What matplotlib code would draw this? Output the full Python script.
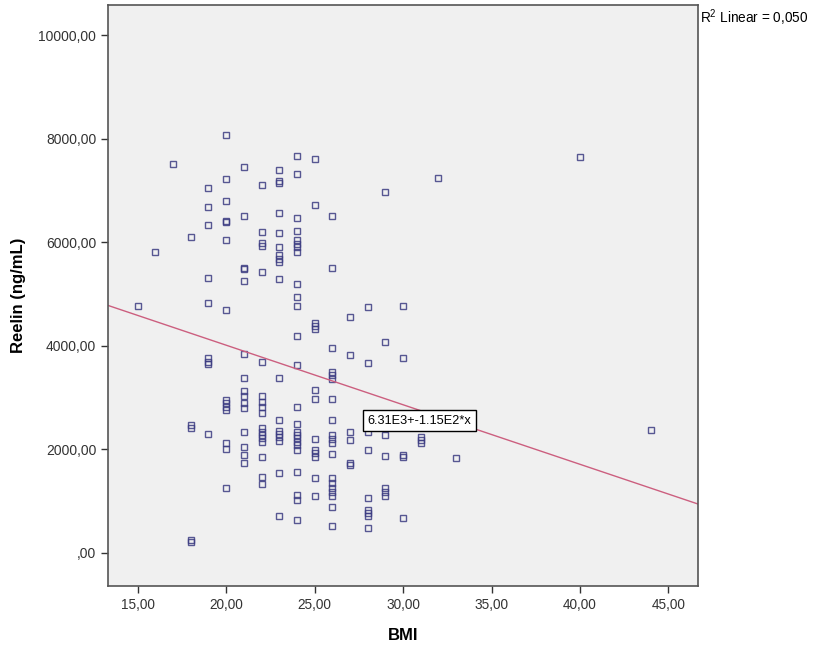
"""Scatter of Reelin vs BMI with linear fit, SPSS style."""

import matplotlib
import matplotlib.pyplot as plt
import numpy as np
from matplotlib.ticker import FuncFormatter

matplotlib.use("Agg")

# BMI values, grouped per column
bmi = (
    [15] * 1 + [16] * 1 + [17] * 1 + [18] * 5 + [19] * 9 + [20] * 14
    + [21] * 15 + [22] * 18 + [23] * 18 + [24] * 25 + [25] * 13 + [26] * 19
    + [27] * 6 + [28] * 9 + [29] * 7 + [30] * 5 + [31] * 3 + [32] * 1
    + [33] * 1 + [40] * 1 + [44] * 1
)

reelin = [
    4760,
    5810,
    7500,
    6100, 2470, 2410, 250, 210,
    7050, 6680, 6330, 5300, 4820, 3760, 3690, 3640, 2290,
    8060, 7220, 6800, 6410, 6380, 6050, 4690, 2950, 2890, 2820, 2760, 2120, 2010, 1260,
    7460, 6500, 5510, 5480, 5240, 3840, 3380, 3130, 3020, 2890, 2790, 2340, 2040, 1890, 1730,
    7110, 6200, 5980, 5930, 5430, 3690, 3020, 2920, 2820, 2700, 2410, 2340, 2280, 2210, 2150,
    1850, 1460, 1330,
    7390, 7180, 7150, 6570, 6180, 5910, 5750, 5680, 5620, 5280, 3370, 2570, 2360, 2300, 2230,
    2160, 1540, 710,
    7660, 7320, 6470, 6210, 6040, 5970, 5910, 5800, 5190, 4950, 4760, 4180, 3620, 2810, 2490,
    2340, 2280, 2210, 2150, 2090, 1990, 1560, 1120, 1020, 640,
    7600, 6720, 4430, 4380, 4330, 3150, 2970, 2190, 1990, 1920, 1860, 1440, 1090,
    6510, 5500, 3950, 3500, 3440, 3360, 2970, 2570, 2280, 2200, 2120, 1900, 1440, 1350, 1250,
    1180, 1090, 890, 520,
    4550, 3820, 2330, 2170, 1730, 1700,
    4740, 3660, 2340, 1990, 1060, 830, 770, 710, 480,
    6960, 4080, 2270, 1870, 1250, 1180, 1090,
    4770, 3770, 1890, 1860, 680,
    2230, 2180, 2120,
    7230,
    1830,
    7650,
    2380,
]

# fit line as printed on the chart
intercept = 6.31e3
slope = -1.15e2
fit_label = "6.31E3+-1.15E2*x"
r2_label = "R$^2$ Linear = 0,050"

x_ticks = [15, 20, 25, 30, 35, 40, 45]
y_ticks = [0, 2000, 4000, 6000, 8000, 10000]

plt.rcParams["font.family"] = ["Liberation Sans", "DejaVu Sans"]
plt.rcParams["mathtext.fontset"] = "custom"
plt.rcParams["mathtext.rm"] = "Liberation Sans"

fig = plt.figure(figsize=(8.13, 6.45), dpi=100)
ax = fig.add_axes([0.1328, 0.0915, 0.7257, 0.9008])
ax.set_facecolor("#f0f0f0")

ax.plot(bmi, reelin, linestyle="none", marker="s", markersize=4.8,
        markerfacecolor="none", markeredgecolor="#3c3c82", markeredgewidth=1.0,
        alpha=0.85)

xlim = (13.32, 46.67)
xs = np.array(xlim)
ax.plot(xs, intercept + slope * xs, color="#cc5f7f", linewidth=1.0)

ax.set_xlim(*xlim)
ax.set_ylim(-640, 10580)
ax.set_xticks(x_ticks)
ax.set_yticks(y_ticks)
ax.xaxis.set_major_formatter(FuncFormatter(lambda v, p: f"{v:.2f}".replace(".", ",")))
ax.yaxis.set_major_formatter(
    FuncFormatter(lambda v, p: ",00" if v == 0 else f"{v:.2f}".replace(".", ","))
)
ax.tick_params(direction="out", length=5, width=1, colors="#333333", labelsize=10)
ax.tick_params(axis="x", labelsize=9.8)

for side in ["left", "bottom", "right", "top"]:
    ax.spines[side].set_color("#555555")
    ax.spines[side].set_linewidth(1.2)

ax.set_xlabel("BMI", fontsize=12, fontweight="bold", labelpad=12)
ax.set_ylabel("Reelin (ng/mL)", fontsize=12, fontweight="bold", labelpad=9)

ax.text(28.0, 2548, fit_label, fontsize=9.2, va="center", ha="left",
        bbox=dict(boxstyle="square,pad=0.35", facecolor="white", edgecolor="black",
                  linewidth=1))

fig.text(0.861, 0.972, r2_label, fontsize=9.8, ha="left", va="center")

plt.savefig("out.png", dpi=100)
plt.close()
